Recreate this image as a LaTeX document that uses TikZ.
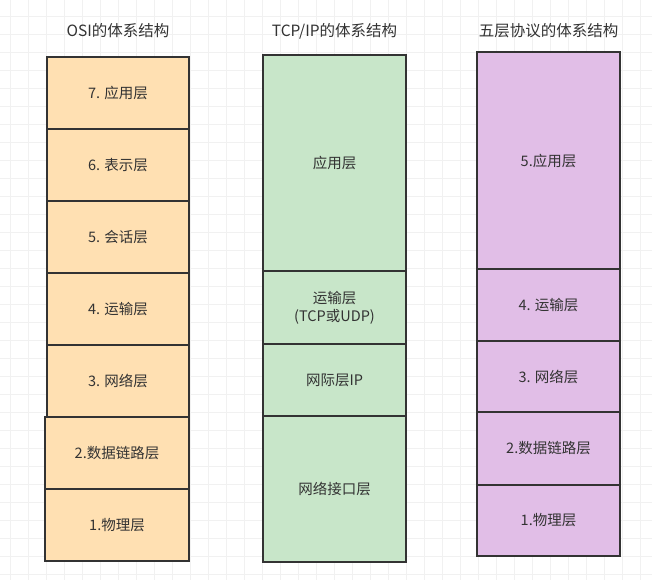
\documentclass[tikz,border=0pt]{standalone}
\usepackage{fontspec}
\setmainfont{Noto Sans CJK SC}
\definecolor{gridc}{HTML}{F1F1F1}
\definecolor{edgec}{HTML}{333333}
\definecolor{textc}{HTML}{333333}
\definecolor{osifill}{HTML}{FFE0B2}
\definecolor{tcpfill}{HTML}{C8E6C9}
\definecolor{fivefill}{HTML}{E1BEE7}
\tikzset{
  layerbox/.style={draw=edgec, line width=1.7pt, inner sep=0pt, text=textc,
    font=\fontsize{14.5}{18}\selectfont, align=center},
  osibox/.style={layerbox, fill=osifill},
  tcpbox/.style={layerbox, fill=tcpfill},
  fivebox/.style={layerbox, fill=fivefill},
  titletext/.style={text=textc, font=\fontsize{15.5}{18}\selectfont, inner sep=0pt}
}
\begin{document}
\begin{tikzpicture}[x=1pt, y=-1pt]
\useasboundingbox[fill=white] (0,0) rectangle (668,584);
% grid
\foreach \k in {0,...,35} {\draw[gridc, line width=0.8pt] (10+18*\k,0) -- (10+18*\k,580);}
\foreach \k in {0,...,31} {\draw[gridc, line width=0.8pt] (0,16+18*\k) -- (652,16+18*\k);}
% titles
\node[titletext] (t1) at (118,31) {OSI的体系结构};
\node[titletext] (t2) at (334.5,31) {TCP/IP的体系结构};
\node[titletext] (t3) at (548.5,31) {五层协议的体系结构};
% OSI
\node[osibox, minimum width=142, minimum height=72] (o7) at (118,93) {7. 应用层};
\node[osibox, minimum width=142, minimum height=72] (o6) at (118,165) {6. 表示层};
\node[osibox, minimum width=142, minimum height=72] (o5) at (118,237) {5. 会话层};
\node[osibox, minimum width=142, minimum height=72] (o4) at (118,309) {4. 运输层};
\node[osibox, minimum width=142, minimum height=72] (o3) at (118,381) {3. 网络层};
\node[osibox, minimum width=144, minimum height=72] (o2) at (117,453) {2.数据链路层};
\node[osibox, minimum width=144, minimum height=72] (o1) at (117,525) {1.物理层};
% TCP/IP
\node[tcpbox, minimum width=143, minimum height=216] (c4) at (334.5,163) {应用层};
\node[tcpbox, minimum width=143, minimum height=73] (c3) at (334.5,307.5) {运输层\\(TCP或UDP)};
\node[tcpbox, minimum width=143, minimum height=72] (c2) at (334.5,380) {网际层IP};
\node[tcpbox, minimum width=143, minimum height=146] (c1) at (334.5,489) {网络接口层};
% five layers
\node[fivebox, minimum width=143, minimum height=217] (f5) at (548.5,160.5) {5.应用层};
\node[fivebox, minimum width=143, minimum height=72] (f4) at (548.5,305) {4. 运输层};
\node[fivebox, minimum width=143, minimum height=71] (f3) at (548.5,376.5) {3. 网络层};
\node[fivebox, minimum width=143, minimum height=73] (f2) at (548.5,448.5) {2.数据链路层};
\node[fivebox, minimum width=143, minimum height=71] (f1) at (548.5,520.5) {1.物理层};
\end{tikzpicture}
\end{document}
